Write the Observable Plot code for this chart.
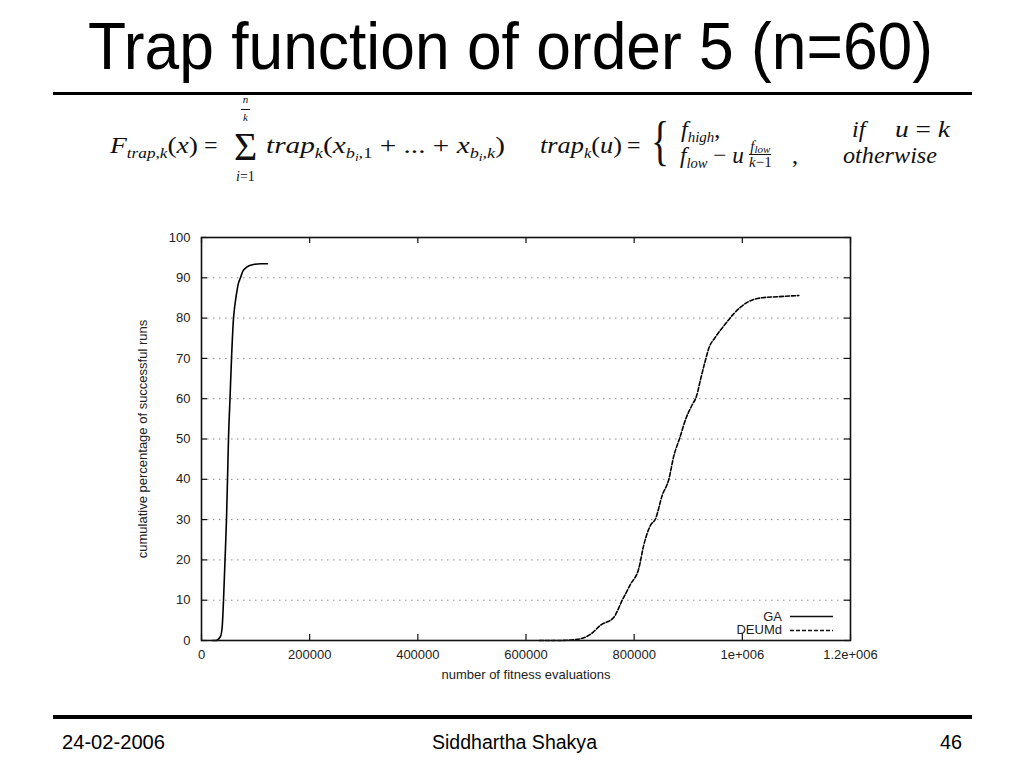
<!DOCTYPE html>
<html>
<head>
<meta charset="utf-8">
<script src="https://cdn.jsdelivr.net/npm/d3@7"></script>
<script src="https://cdn.jsdelivr.net/npm/@observablehq/plot@0.6"></script>
<style>
  html, body { margin: 0; padding: 0; background: #fff; }
  body { width: 1024px; height: 768px; position: relative; overflow: hidden; font-family: "Liberation Sans", Arial, sans-serif; }
  .abs { position: absolute; white-space: nowrap; }
  #title { left: 88px; top: 4px; font-family: "Liberation Sans Narrow", "Liberation Sans", Arial, sans-serif; font-size: 66px; line-height: 84px; color: #000; transform-origin: 0 0; }
  .rule { position: absolute; left: 53px; width: 919px; background: #000; }
  .foot { font-family: "Liberation Sans Narrow", "Liberation Sans", Arial, sans-serif; font-size: 20px; line-height: 24px; color: #000; transform-origin: 0 0; }
  .m { font-family: "Liberation Serif", "DejaVu Serif", serif; font-style: italic; font-size: 24px; line-height: 28px; color: #111; transform-origin: 0 0; }
  .m .u { font-style: normal; }
  .m sub { font-size: 15px; vertical-align: -5px; line-height: 0; }
  .m sub sub { font-size: 11px; vertical-align: -3px; }
  #chart { position: absolute; left: 0; top: 200px; }
</style>
</head>
<body>
<div id="title" class="abs">Trap function of order 5 (n=60)</div>
<div class="rule" style="top:92px; height:3px;"></div>

<!-- formula left -->
<div id="eqA" class="abs m" style="left:110px; top:131px;">F<sub>trap,k</sub><span class="u">(</span>x<span class="u">)</span></div>
<div class="abs m" style="left:204px; top:131px;"><span class="u">=</span></div>
<div class="abs m" style="left:241px; top:95px; font-size:11px; text-align:center; line-height:9px;">n<br><span style="display:inline-block;border-top:1px solid #111;width:9px;vertical-align:middle;"></span><br>k</div>
<div class="abs" style="left:234px; top:131.5px; font-family:'Liberation Serif','DejaVu Serif',serif; font-size:40px; line-height:30px; color:#111;">Σ</div>
<div class="abs m" style="left:236px; top:170px; font-size:14px; line-height:14px;">i<span class="u">=1</span></div>
<div id="eqB" class="abs m" style="left:266px; top:131px;">trap<sub>k</sub><span class="u">(</span>x<sub>b<sub>i</sub><span class="u">,1</span></sub> <span class="u">+ ... +</span> x<sub>b<sub>i</sub>,k</sub><span class="u">)</span></div>

<!-- formula right -->
<div id="eqC" class="abs m" style="left:540px; top:131px;">trap<sub>k</sub><span class="u">(</span>u<span class="u">)</span></div>
<div class="abs m" style="left:627px; top:131px;"><span class="u">=</span></div>
<div class="abs" style="left:651px; top:112px; font-family:'Liberation Serif','DejaVu Serif',serif; font-size:54px; line-height:58px; color:#111; transform: scaleX(0.7); transform-origin:0 0;">{</div>
<div id="r1a" class="abs m" style="left:681px; top:115px;">f<sub>high</sub><span class="u">,</span></div>
<div class="abs m" style="left:852px; top:115px;">if</div>
<div id="r1c" class="abs m" style="left:895px; top:115px;">u <span class="u">=</span> k</div>
<div id="r2a" class="abs m" style="left:680px; top:141px;">f<sub>low</sub> <span class="u">−</span> u</div>
<div class="abs m" style="left:749px; top:139px; font-size:15px; text-align:center; line-height:14px;"><span style="border-bottom:1px solid #111; display:inline-block; padding:0 1px 1px;">f<sub style="font-size:11px;vertical-align:-2px;">low</sub></span><br>k<span class="u">−1</span></div>
<div class="abs m" style="left:792px; top:141px;"><span class="u">,</span></div>
<div id="r2c" class="abs m" style="left:843px; top:141px;">otherwise</div>

<div id="chart"></div>
<svg class="abs" style="left:690px; top:606px;" width="150" height="32">
  <text x="92" y="15" text-anchor="end" font-family="Liberation Sans, Arial, sans-serif" font-size="13" fill="#222">GA</text>
  <text x="92" y="28" text-anchor="end" font-family="Liberation Sans, Arial, sans-serif" font-size="13" fill="#222">DEUMd</text>
  <line x1="100" x2="143" y1="10.5" y2="10.5" stroke="#111" stroke-width="1.5"/>
  <line x1="100" x2="143" y1="24.5" y2="24.5" stroke="#111" stroke-width="1.5" stroke-dasharray="4,2"/>
</svg>

<div class="rule" style="top:715px; height:4px;"></div>
<div id="f1" class="abs foot" style="left:62px; top:730px;">24-02-2006</div>
<div id="f2" class="abs foot" style="left:432px; top:730px;">Siddhartha Shakya</div>
<div id="f3" class="abs foot" style="left:940px; top:730px;">46</div>

<script>
// ---- data ----
const gaX = [20000, 25900, 35100, 38300, 40700, 43500, 46200, 48100, 49900, 52700, 55500, 59200, 62000, 64700, 68000, 72100, 76000, 81400, 88000, 96100, 110000, 122000];
const gaY = [0, 0, 1, 3.4, 10, 20, 30, 40, 50, 60, 70, 80, 83.5, 86, 88.5, 90, 91.5, 92.4, 93, 93.3, 93.5, 93.5];
const deumX = [625000, 660000, 695000, 719000, 738000, 762000, 778000, 793000, 808600, 817800, 830200, 839500, 851800, 864100, 873300, 884400, 894900, 907300, 915200, 922600, 931900, 938000, 950400, 968900, 984300, 1009000, 1033600, 1064500, 1104500];
const deumY = [0, 0, 0.3, 1.5, 3.8, 5.7, 10, 13.9, 17.9, 23.7, 28.6, 30.2, 36, 40, 45.8, 50.3, 54.8, 58.5, 60.6, 64.7, 69.6, 72.5, 75.3, 78.6, 81.1, 83.9, 85, 85.3, 85.6];
const xTicks = [0, 200000, 400000, 600000, 800000, 1000000, 1200000];
const xTickLabels = ["0", "200000", "400000", "600000", "800000", "1e+006", "1.2e+006"];
const yTicks = [0, 10, 20, 30, 40, 50, 60, 70, 80, 90, 100];
const gridY = [10, 20, 30, 40, 50, 60, 70, 80, 90];
const xLabel = "number of fitness evaluations";
const yLabel = "cumulative percentage of successful runs";

const ga = gaX.map((x, i) => ({x, y: gaY[i]}));
const deum = deumX.map((x, i) => ({x, y: deumY[i]}));

const W = 1024, H = 500, mL = 201, mR = 174, mT = 37, mB = 60;
const xMax = 1200000, yMax = 100;
const tickPx = 6;
const tkX = xMax * tickPx / (W - mL - mR);
const tkY = yMax * tickPx / (H - mT - mB);

const chart = Plot.plot({
  width: W, height: H,
  marginLeft: mL, marginRight: mR, marginTop: mT, marginBottom: mB,
  style: {fontFamily: "Liberation Sans, Arial, sans-serif", fontSize: "13px", color: "#222", background: "transparent"},
  x: {domain: [0, xMax]},
  y: {domain: [0, yMax]},
  marks: [
    Plot.ruleY(gridY, {stroke: "#8a8a8a", strokeWidth: 1, strokeDasharray: "1.5,4.5"}),
    Plot.ruleY(yTicks, {x1: 0, x2: tkX, stroke: "#111", strokeWidth: 1.2}),
    Plot.ruleY(yTicks, {x1: xMax - tkX, x2: xMax, stroke: "#111", strokeWidth: 1.2}),
    Plot.ruleX(xTicks, {y1: 0, y2: tkY, stroke: "#111", strokeWidth: 1.2}),
    Plot.ruleX(xTicks, {y1: yMax - tkY, y2: yMax, stroke: "#111", strokeWidth: 1.2}),
    Plot.axisY(yTicks, {anchor: "left", tickSize: 0, tickPadding: 11, label: yLabel, labelAnchor: "center", labelArrow: "none", labelOffset: 64, fontSize: 13}),
    Plot.axisX(xTicks, {anchor: "bottom", tickSize: 0, tickPadding: 9, tickFormat: (d, i) => xTickLabels[i], label: xLabel, labelAnchor: "center", labelArrow: "none", labelOffset: 38, fontSize: 13}),
    Plot.line(ga, {x: "x", y: "y", stroke: "#000", strokeWidth: 1.6, curve: "monotone-x"}),
    Plot.line(deum, {x: "x", y: "y", stroke: "#000", strokeWidth: 1.6, strokeDasharray: "4,2", curve: "monotone-x"}),
    Plot.frame({stroke: "#111", strokeWidth: 1.6})
  ]
});
document.getElementById("chart").appendChild(chart);

function fit(id, w) {
  const el = document.getElementById(id);
  const r = el.getBoundingClientRect().width;
  if (r > 0) el.style.transform = `scaleX(${w / r})`;
}
fit("title", 845);
fit("f1", 103);
fit("f2", 165);
fit("f3", 22);
fit("eqA", 88);
fit("eqB", 239);
fit("eqC", 82);
fit("r1c", 55);
fit("r2a", 64);
fit("r2c", 94);
</script>
</body>
</html>
